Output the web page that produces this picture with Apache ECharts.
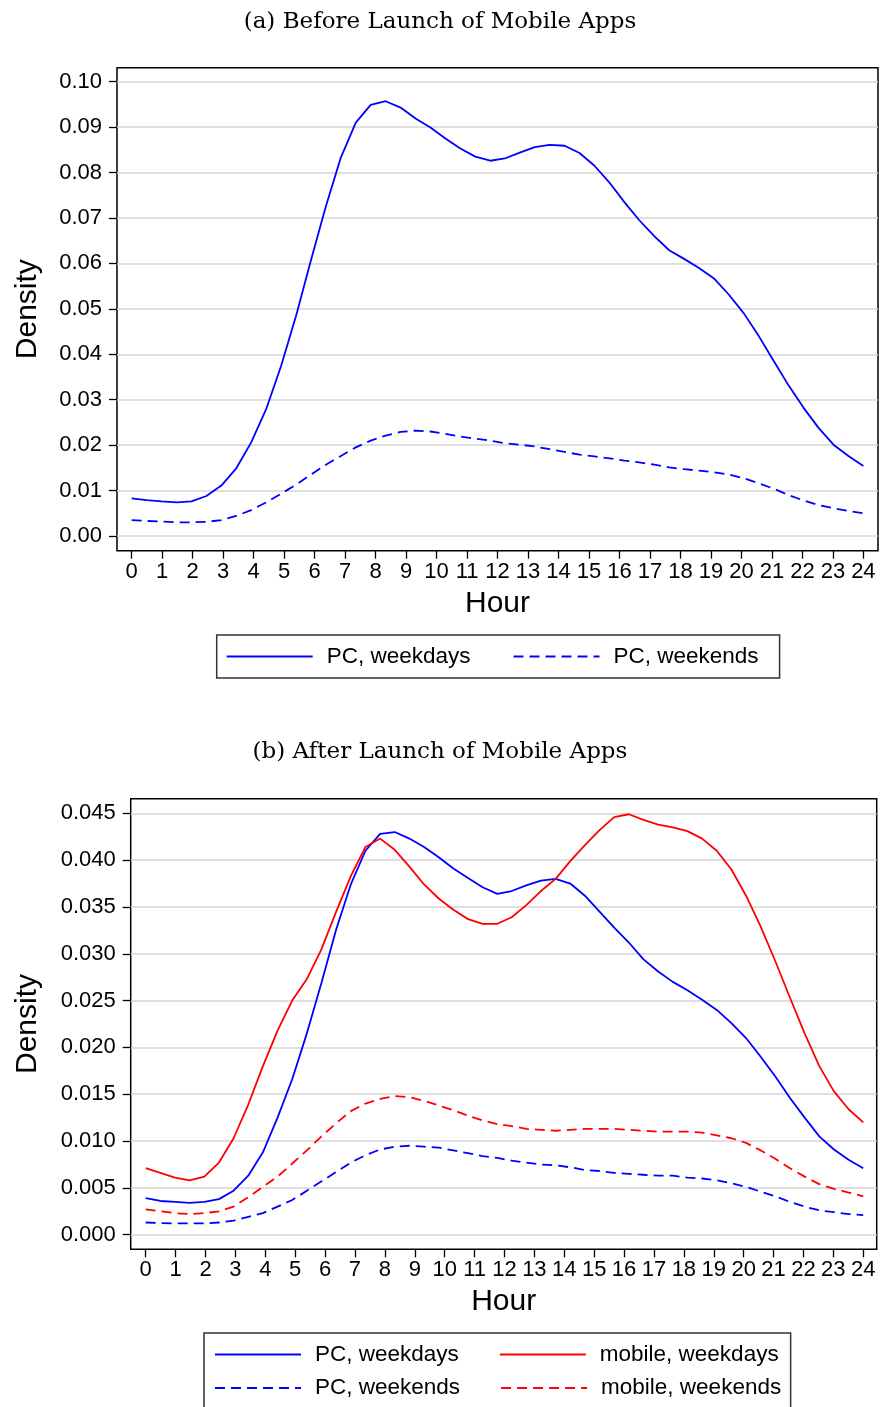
<!DOCTYPE html>
<html>
<head>
<meta charset="utf-8">
<script src="https://cdn.jsdelivr.net/npm/echarts@6/dist/echarts.min.js"></script>
<style>
  html, body { margin: 0; padding: 0; background: #fff; }
  #chart { width: 880px; height: 1407px; }
</style>
</head>
<body>
<div id="chart"></div>
<script>
// kernel density grid, 50 points from 0 to 24
const hours = [0, 0.49, 0.98, 1.47, 1.96, 2.45, 2.94, 3.43, 3.92, 4.41,
  4.90, 5.39, 5.88, 6.37, 6.86, 7.35, 7.84, 8.33, 8.82, 9.31,
  9.80, 10.29, 10.78, 11.27, 11.76, 12.24, 12.73, 13.22, 13.71, 14.20,
  14.69, 15.18, 15.67, 16.16, 16.65, 17.14, 17.63, 18.12, 18.61, 19.10,
  19.59, 20.08, 20.57, 21.06, 21.55, 22.04, 22.53, 23.02, 23.51, 24];

const hourTicks = [0, 1, 2, 3, 4, 5, 6, 7, 8, 9, 10, 11, 12, 13, 14, 15, 16, 17, 18, 19, 20, 21, 22, 23, 24];
const densityTicksA = [0, 0.01, 0.02, 0.03, 0.04, 0.05, 0.06, 0.07, 0.08, 0.09, 0.10];
const densityTicksB = [0, 0.005, 0.010, 0.015, 0.020, 0.025, 0.030, 0.035, 0.040, 0.045];

// (a) before launch
const pcWeekdaysA = [0.0083, 0.0079, 0.0076, 0.0074, 0.0076, 0.0088, 0.0111, 0.0149, 0.0206, 0.0279,
  0.0374, 0.0484, 0.0607, 0.0726, 0.0833, 0.0910, 0.0949, 0.0957, 0.0943, 0.0919,
  0.0899, 0.0875, 0.0853, 0.0835, 0.0826, 0.0831, 0.0844, 0.0856, 0.0861, 0.0859,
  0.0843, 0.0815, 0.0778, 0.0735, 0.0695, 0.0660, 0.0629, 0.0610, 0.0590, 0.0567,
  0.0531, 0.0490, 0.0440, 0.0385, 0.0331, 0.0282, 0.0238, 0.0201, 0.0176, 0.0154];
const pcWeekendsA = [0.0035, 0.0033, 0.0032, 0.0030, 0.0030, 0.0031, 0.0035, 0.0044, 0.0057, 0.0074,
  0.0093, 0.0113, 0.0135, 0.0157, 0.0176, 0.0195, 0.0210, 0.0221, 0.0229, 0.0232,
  0.0230, 0.0225, 0.0219, 0.0214, 0.0210, 0.0204, 0.0201, 0.0197, 0.0191, 0.0185,
  0.0179, 0.0175, 0.0171, 0.0166, 0.0162, 0.0157, 0.0151, 0.0147, 0.0144, 0.0140,
  0.0135, 0.0127, 0.0116, 0.0104, 0.0090, 0.0078, 0.0068, 0.0061, 0.0055, 0.0050];

// (b) after launch
const pcWeekdaysB = [0.0039, 0.0036, 0.0035, 0.0034, 0.0035, 0.0038, 0.0047, 0.0063, 0.0088, 0.0125,
  0.0166, 0.0215, 0.0269, 0.0326, 0.0374, 0.0410, 0.0428, 0.0430, 0.0423, 0.0414,
  0.0403, 0.0391, 0.0381, 0.0371, 0.0364, 0.0367, 0.0373, 0.0378, 0.0380, 0.0375,
  0.0362, 0.0345, 0.0328, 0.0312, 0.0294, 0.0281, 0.0270, 0.0261, 0.0251, 0.0240,
  0.0226, 0.0210, 0.0190, 0.0169, 0.0146, 0.0125, 0.0105, 0.0091, 0.0080, 0.0071];
const pcWeekendsB = [0.0013, 0.00125, 0.0012, 0.0012, 0.0012, 0.0013, 0.0015, 0.0019, 0.0023, 0.0030,
  0.0037, 0.0047, 0.0057, 0.0067, 0.0077, 0.0085, 0.0091, 0.0094, 0.0095, 0.0094,
  0.0093, 0.0090, 0.0087, 0.0084, 0.0082, 0.0079, 0.0077, 0.0075, 0.0074, 0.0072,
  0.0069, 0.0068, 0.0066, 0.0065, 0.0064, 0.0063, 0.0063, 0.0061, 0.0060, 0.0058,
  0.0055, 0.0051, 0.0046, 0.0041, 0.0035, 0.0030, 0.0026, 0.0024, 0.0022, 0.0021];
const mobileWeekdaysB = [0.0071, 0.0066, 0.0061, 0.0058, 0.0062, 0.0077, 0.0103, 0.0139, 0.0180, 0.0218,
  0.0250, 0.0273, 0.0305, 0.0345, 0.0383, 0.0414, 0.0423, 0.0411, 0.0393, 0.0374,
  0.0359, 0.0347, 0.0337, 0.0332, 0.0332, 0.0339, 0.0352, 0.0367, 0.0380, 0.0399,
  0.0416, 0.0432, 0.0446, 0.0449, 0.0443, 0.0438, 0.0435, 0.0431, 0.0423, 0.0410,
  0.0390, 0.0362, 0.0329, 0.0292, 0.0253, 0.0215, 0.0180, 0.0153, 0.0134, 0.0120];
const mobileWeekendsB = [0.0027, 0.0025, 0.0023, 0.0022, 0.0023, 0.0025, 0.0030, 0.0040, 0.0051, 0.0062,
  0.0076, 0.0090, 0.0105, 0.0119, 0.0132, 0.0140, 0.0145, 0.0148, 0.0147, 0.0143,
  0.0138, 0.0133, 0.0127, 0.0122, 0.0118, 0.0116, 0.0113, 0.0112, 0.0111, 0.0112,
  0.0113, 0.0113, 0.0113, 0.0112, 0.0111, 0.0110, 0.0110, 0.0110, 0.0109, 0.0106,
  0.0103, 0.0098, 0.0090, 0.0081, 0.0071, 0.0062, 0.0054, 0.0049, 0.0045, 0.0041];

const SANS = "'Liberation Sans', Arial, sans-serif";
const SERIF = "'DejaVu Serif', serif";
const BLUE = '#0000ff';
const RED = '#ff0000';
const DASH = [10, 6];

function pairs(vals) {
  return hours.map((h, i) => [h, vals[i]]);
}

function xAxisFor(gridIndex, min, max, nameGap) {
  return {
    type: 'value', gridIndex: gridIndex, min: min, max: max,
    name: 'Hour', nameLocation: 'middle', nameGap: nameGap,
    nameTextStyle: { fontFamily: SANS, fontSize: 30, color: '#000' },
    axisLine: { show: false, onZero: false },
    axisTick: { show: true, length: 8, customValues: hourTicks, lineStyle: { color: '#000', width: 1.3 } },
    axisLabel: { customValues: hourTicks, margin: 10, fontFamily: SANS, fontSize: 22, color: '#000' },
    splitLine: { show: false }
  };
}

function yAxisFor(gridIndex, min, max, ticks, digits, nameGap) {
  return {
    type: 'value', gridIndex: gridIndex, min: min, max: max,
    name: 'Density', nameLocation: 'middle', nameRotate: 90, nameGap: nameGap,
    nameTextStyle: { fontFamily: SANS, fontSize: 30, color: '#000' },
    axisLine: { show: false, onZero: false },
    axisTick: { show: true, length: 8, customValues: ticks, lineStyle: { color: '#000', width: 1.3 } },
    axisLabel: {
      customValues: ticks, margin: 15, fontFamily: SANS, fontSize: 22, color: '#000',
      formatter: v => v.toFixed(digits)
    },
    splitLine: { show: true, lineStyle: { color: '#d4d4d4', width: 1.5 } }
  };
}

function lineSeries(name, idx, vals, color, dashed) {
  return {
    name: name, type: 'line', xAxisIndex: idx, yAxisIndex: idx,
    data: pairs(vals), symbol: 'none', smooth: false, animation: false,
    lineStyle: { color: color, width: 1.8, type: dashed ? DASH : 'solid' },
    itemStyle: { color: color }
  };
}

const legendText = { fontFamily: SANS, fontSize: 22.5, color: '#000', padding: [0, 0, 0, 9] };
// hide the marker dot, keep just the line sample
const noDot = { color: 'rgba(0,0,0,0)', borderColor: 'rgba(0,0,0,0)', borderWidth: 0 };

const chart = echarts.init(document.getElementById('chart'), null, { renderer: 'canvas' });

chart.setOption({
  backgroundColor: '#fff',
  animation: false,
  title: [
    { text: '(a) Before Launch of Mobile Apps', left: 'center', top: 6,
      textStyle: { fontFamily: SERIF, fontSize: 23, fontWeight: 'normal', color: '#000' } },
    { text: '(b) After Launch of Mobile Apps', left: 'center', top: 736,
      textStyle: { fontFamily: SERIF, fontSize: 23, fontWeight: 'normal', color: '#000' } }
  ],
  grid: [
    { left: 117, top: 67.7, width: 761, height: 483, show: true, borderColor: '#000', borderWidth: 1.5,
      backgroundColor: 'transparent', containLabel: false, outerBoundsMode: 'none' },
    { left: 130.7, top: 798.7, width: 746, height: 450.6, show: true, borderColor: '#000', borderWidth: 1.5,
      backgroundColor: 'transparent', containLabel: false, outerBoundsMode: 'none' }
  ],
  xAxis: [
    xAxisFor(0, -0.482, 24.48, 38),
    xAxisFor(1, -0.502, 24.45, 37)
  ],
  yAxis: [
    yAxisFor(0, -0.00324, 0.10308, densityTicksA, 2, 74),
    yAxisFor(1, -0.00156, 0.04656, densityTicksB, 3, 88)
  ],
  legend: [
    {
      data: ['PC, weekdays', 'PC, weekends'],
      left: 216.7, top: 635, orient: 'horizontal',
      itemWidth: 86, itemHeight: 14, itemGap: 42,
      padding: [10, 21, 10, 9], borderColor: '#333', borderWidth: 1.5,
      itemStyle: noDot, textStyle: legendText, selectedMode: false
    },
    {
      data: [{ name: 'PC, weekdays', textStyle: { width: 148 } }, 'mobile, weekdays'],
      left: 204, top: 1333, orient: 'horizontal',
      itemWidth: 86, itemHeight: 14, itemGap: 40,
      padding: [10, 12, 44, 10], borderColor: '#333', borderWidth: 1.5,
      itemStyle: noDot, textStyle: legendText, selectedMode: false
    },
    {
      data: [{ name: 'PC, weekends', textStyle: { width: 148 } }, 'mobile, weekends'],
      left: 214, top: 1376.5, orient: 'horizontal',
      itemWidth: 86, itemHeight: 14, itemGap: 40,
      padding: 0,
      itemStyle: noDot, textStyle: legendText, selectedMode: false
    }
  ],
  series: [
    lineSeries('PC, weekdays', 0, pcWeekdaysA, BLUE, false),
    lineSeries('PC, weekends', 0, pcWeekendsA, BLUE, true),
    lineSeries('PC, weekdays', 1, pcWeekdaysB, BLUE, false),
    lineSeries('PC, weekends', 1, pcWeekendsB, BLUE, true),
    lineSeries('mobile, weekdays', 1, mobileWeekdaysB, RED, false),
    lineSeries('mobile, weekends', 1, mobileWeekendsB, RED, true)
  ]
});
</script>
</body>
</html>
